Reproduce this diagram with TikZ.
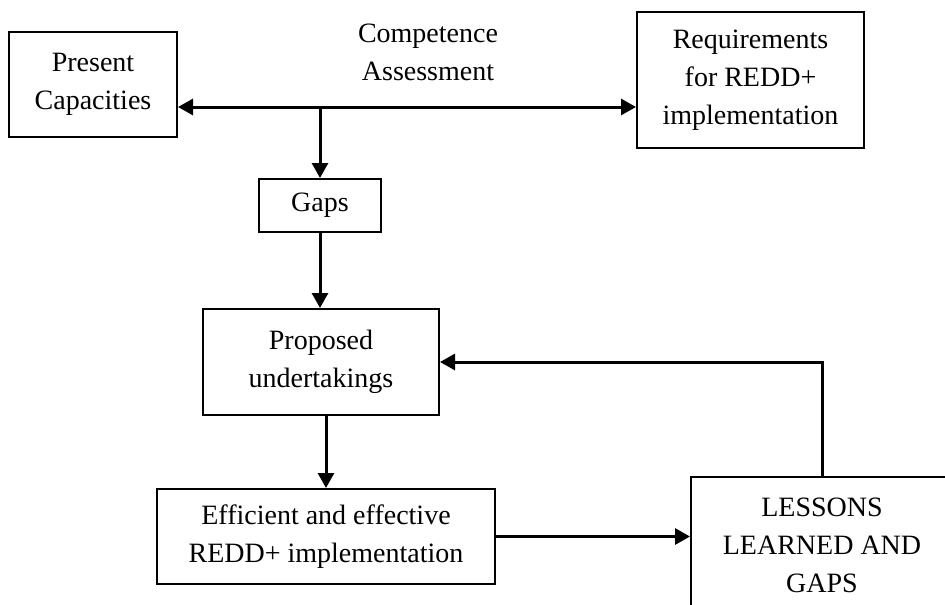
\documentclass[tikz,border=0pt]{standalone}
\usepackage{fontspec}
\setmainfont{Liberation Serif}
\usetikzlibrary{arrows.meta}
\begin{document}
\begin{tikzpicture}[x=1pt,y=-1pt,
  box/.style={draw=black,line width=2pt,inner sep=0pt,align=center,
    font=\fontsize{28}{38}\selectfont},
  lbl/.style={inner sep=0pt,align=center,font=\fontsize{28}{38}\selectfont},
  conn/.style={line width=3pt,-{Triangle[length=15pt,width=16pt]}},
  dconn/.style={line width=3pt,{Triangle[length=15pt,width=16pt]}-{Triangle[length=15pt,width=16pt]}}]
\clip (0,0) rectangle (945,605);
\fill[white] (0,0) rectangle (945,605);
\node[box,minimum width=168pt,minimum height=105pt] (pc) at (93,84.5) {Present\\Capacities};
\node[box,minimum width=227pt,minimum height=136pt] (req) at (750.5,80) {Requirements\\for REDD+\\implementation};
\node[lbl] (ca) at (428,52.5) {Competence\\Assessment};
\coordinate (j) at (320,107);
\node[box,minimum width=122pt,minimum height=53pt] (gaps) at (320,205.5) {Gaps};
\node[box,minimum width=236pt,minimum height=106pt] (prop) at (321,362) {Proposed\\undertakings};
\node[box,minimum width=338pt,minimum height=95pt] (eff) at (326,536.5) {Efficient and effective\\REDD+ implementation};
\node[box,minimum width=262pt,minimum height=136pt] (les) at (822,545) {LESSONS\\LEARNED AND\\GAPS};
\draw[dconn] (pc.east |- j) -- (req.west |- j);
\draw[conn] ([yshift=-1.5pt]j) -- (gaps.north);
\draw[conn] (gaps.south) -- (prop.north -| gaps.south);
\draw[conn] (prop.south -| eff.north) -- (eff.north);
\draw[conn] (eff.east) -- (eff.east -| les.west);
\draw[conn] (les.north) |- (prop.east);
\end{tikzpicture}
\end{document}
